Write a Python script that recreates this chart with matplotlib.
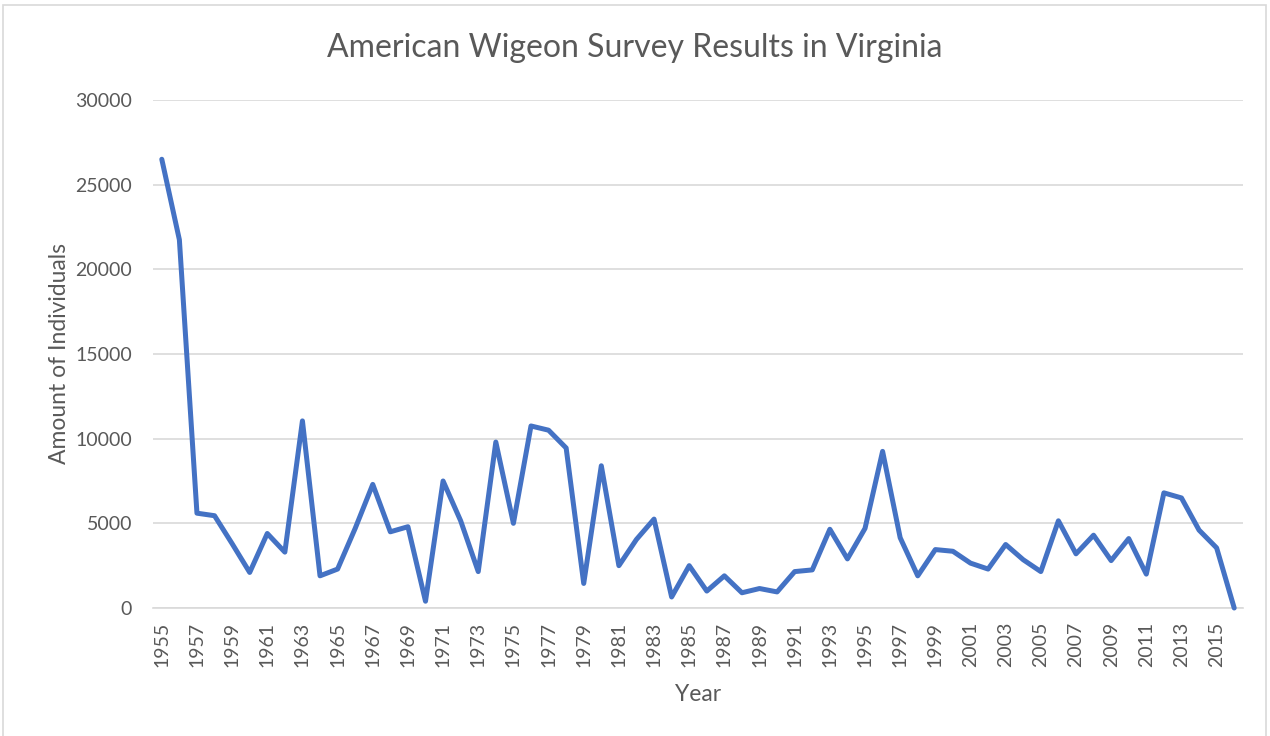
import matplotlib.pyplot as plt
import matplotlib.patches as patches

years = list(range(1955, 2017))
counts = [26500, 21750, 5600, 5450, 3800, 2100, 4400, 3300, 11050, 1900,
          2300, 4700, 7300, 4500, 4800, 400, 7500, 5150, 2150, 9800,
          5000, 10750, 10500, 9450, 1450, 8400, 2500, 4050, 5250, 650,
          2500, 1000, 1900, 900, 1150, 950, 2150, 2250, 4650, 2900,
          4700, 9250, 4150, 1900, 3450, 3350, 2650, 2300, 3750, 2850,
          2150, 5150, 3200, 4300, 2800, 4100, 2000, 6800, 6500, 4600,
          3550, 0]
yticks = [0, 5000, 10000, 15000, 20000, 25000, 30000]

plt.rcParams['font.family'] = ['Lato', 'DejaVu Sans']
txt = '#595959'
grid = '#d9d9d9'

fig = plt.figure(figsize=(12.7, 7.36), dpi=100)
ax = fig.add_axes([153 / 1270, 1 - 608 / 736, 1090 / 1270, 508 / 736])

# outer chart border
fig.patches.append(patches.Rectangle((3 / 1270, -0.01), 1263 / 1270, 1 - 5 / 736 + 0.01,
                                     transform=fig.transFigure, fill=False,
                                     edgecolor=grid, linewidth=1.2))

ax.plot(years, counts, color='#4472C4', linewidth=3.6, solid_joinstyle='round',
        solid_capstyle='round', zorder=3, clip_on=False)

ax.set_xlim(1954.5, 2016.5)
ax.set_ylim(0, 30000)
ax.set_yticks(yticks)
ax.set_yticklabels([str(v) for v in yticks])
ax.set_xticks(years[::2])
ax.set_xticklabels([str(y) for y in years[::2]], rotation=90)
ax.grid(axis='y', color=grid, linewidth=1.2)
ax.set_axisbelow(True)
for s in ['top', 'right', 'left']:
    ax.spines[s].set_visible(False)
ax.spines['bottom'].set_color(grid)
ax.spines['bottom'].set_linewidth(1.2)
ax.tick_params(length=0, labelsize=14, labelcolor=txt)
ax.tick_params(axis='y', pad=15)
ax.tick_params(axis='x', pad=10)

fig.text(0.5, 1 - 48 / 736, 'American Wigeon Survey Results in Virginia', fontsize=23,
         color=txt, ha='center', va='center')
ax.set_xlabel('Year', fontsize=16.5, color=txt, labelpad=12)
ax.set_ylabel('Amount of Individuals', fontsize=16.5, color=txt, labelpad=4)

fig.savefig('out.png', dpi=100)
